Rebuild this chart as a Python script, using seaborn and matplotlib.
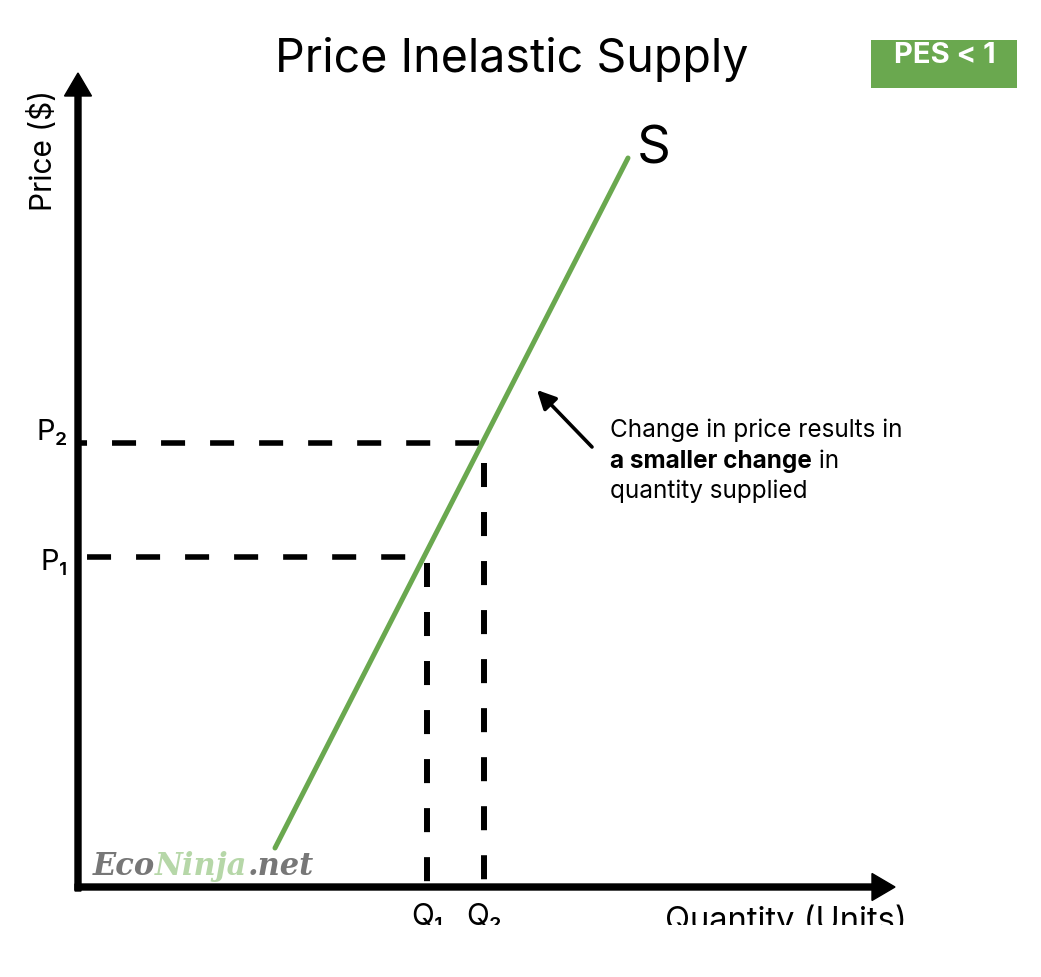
import matplotlib
matplotlib.use("Agg")
import matplotlib.pyplot as plt
import seaborn as sns
from matplotlib.patches import Rectangle

# ---- data ----
supply_quantity = [1.97, 5.50]
supply_price = [0.39, 7.29]
quantity_levels = [3.49, 4.06]
price_levels = [3.30, 4.44]
quantity_labels = ["Q₁", "Q₂"]
price_labels = ["P₁", "P₂"]
title_text = "Price Inelastic Supply"
badge_text = "PES < 1"
curve_label = "S"
note_lines = ["Change in price results in", "a smaller change", " in", "quantity supplied"]
x_label = "Quantity (Units)"
y_label = "Price ($)"
watermark_parts = ["Eco", "Ninja", ".net"]

GREEN = "#6aa84f"

sns.set_theme(style="white")
plt.rcParams["font.family"] = ["Inter", "DejaVu Sans"]
plt.rcParams["text.color"] = "black"
plt.rcParams["lines.scale_dashes"] = False

fig = plt.figure(figsize=(10.41, 9.77), dpi=100, facecolor="white")
ax = fig.add_axes([0, 52 / 977, 1, 925 / 977])
ax.set_xlim(-0.78, 9.63)
ax.set_ylim(-0.38, 8.87)
ax.set_axis_off()

# dashed guide lines
q1, q2 = quantity_levels
p1, p2 = price_levels
ax.plot([0, q1], [p1, p1], color="black", lw=4, linestyle=(28.8, (17.3, 18)), zorder=2)
ax.plot([0, q2], [p2, p2], color="black", lw=4, linestyle=(10.8, (17.3, 18)), zorder=2)
ax.plot([q1, q1], [p1, 0], color="black", lw=4.3, linestyle=(31, (17.3, 18)), zorder=2)
ax.plot([q2, q2], [p2, 0], color="black", lw=4.3, linestyle=(20.9, (17.3, 18)), zorder=2)

# supply curve
sns.lineplot(x=supply_quantity, y=supply_price, color=GREEN, lw=3.6, ax=ax, zorder=3)

# axes with arrows
ax.arrow(0, -0.04, 0, 8.18, width=0.06, head_width=0.27, head_length=0.23,
         length_includes_head=True, color="black", zorder=4)
ax.arrow(-0.03, 0, 8.20, 0, width=0.06, head_width=0.27, head_length=0.23,
         length_includes_head=True, color="black", zorder=4)

# title
ax.text(4.34, 8.15, title_text, fontsize=33.5, ha="center", va="baseline", color="black")

# badge
ax.add_patch(Rectangle((7.93, 7.99), 1.46, 0.48, facecolor=GREEN, edgecolor="none", zorder=1))
ax.text(8.67, 8.24, badge_text, fontsize=21, fontweight="bold", color="white",
        ha="center", va="baseline", zorder=2)

# curve label
ax.text(5.59, 7.24, curve_label, fontsize=38, ha="left", va="baseline")

# axis labels
ax.text(-0.35, 7.37, y_label, fontsize=21.5, rotation=90, ha="center", va="center")
ax.text(8.29, -0.43, x_label, fontsize=23.5, ha="right", va="baseline", clip_on=True)

# level labels
ax.text(-0.10, 3.17, price_labels[0], fontsize=21, ha="right", va="baseline")
ax.text(-0.10, 4.47, price_labels[1], fontsize=21, ha="right", va="baseline")
ax.text(q1, -0.38, quantity_labels[0], fontsize=21.5, ha="center", va="baseline", clip_on=True)
ax.text(q2, -0.38, quantity_labels[1], fontsize=21.5, ha="center", va="baseline", clip_on=True)

# annotation arrow and text
ax.annotate("", xy=(4.59, 4.97), xytext=(5.14, 4.40),
            arrowprops=dict(arrowstyle="-|>", lw=2.6, color="black",
                            mutation_scale=28, shrinkA=0, shrinkB=0))
ax.text(5.32, 4.50, note_lines[0], fontsize=17.5, ha="left", va="baseline")
bold = ax.text(5.32, 4.19, note_lines[1], fontsize=17.5, fontweight="bold",
               ha="left", va="baseline")
ax.annotate(note_lines[2], xy=(1, 0), xycoords=bold, fontsize=17.5, ha="left", va="bottom")
ax.text(5.32, 3.89, note_lines[3], fontsize=17.5, ha="left", va="baseline")

# watermark
wm_font = dict(family="DejaVu Serif", style="italic", weight="bold", fontsize=22)
t1 = ax.text(0.15, 0.12, watermark_parts[0], color="#777777", ha="left", va="baseline", **wm_font)
t2 = ax.annotate(watermark_parts[1], xy=(1, 0), xycoords=t1, color="#b6d7a8",
                 ha="left", va="bottom", **wm_font)
ax.annotate(watermark_parts[2], xy=(1, 0), xycoords=t2, color="#777777",
            ha="left", va="bottom", **wm_font)

fig.savefig("out.png", dpi=100, facecolor="white")
